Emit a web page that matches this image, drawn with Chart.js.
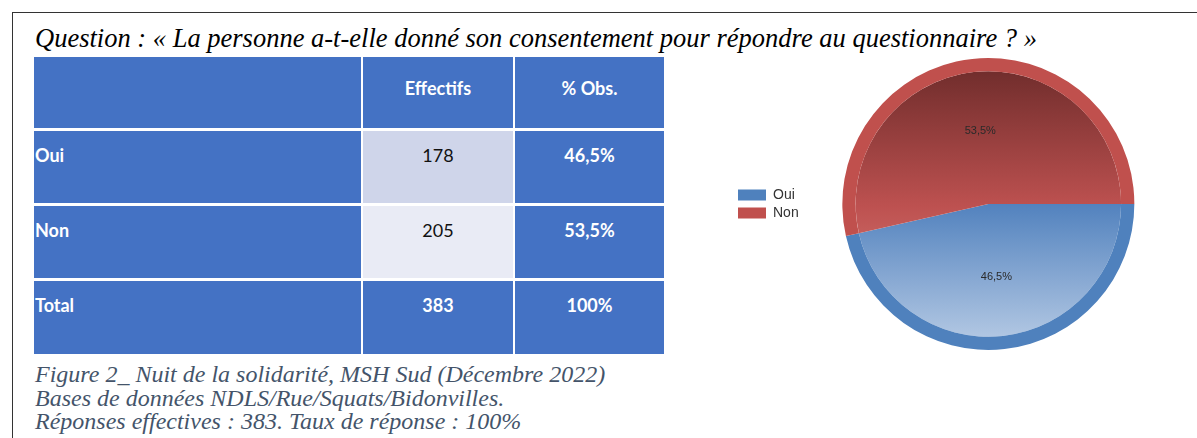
<!DOCTYPE html>
<html lang="fr">
<head>
<meta charset="utf-8">
<script src="https://cdn.jsdelivr.net/npm/chart.js@4.4.0/dist/chart.umd.min.js"></script>
<style>
  html, body { margin: 0; padding: 0; background: #fff; }
  body { width: 1197px; height: 438px; position: relative; overflow: hidden; }
  .frame { position: absolute; left: 12px; top: 12px; width: 1200px; height: 440px;
           border-left: 1px solid #333; border-top: 1px solid #333; }
  .question { position: absolute; left: 35px; top: 25px; font-family: "Liberation Serif", serif;
              font-style: italic; font-size: 26.5px; line-height: 26px; color: #000; white-space: nowrap; }
  .tbl { position: absolute; left: 34px; top: 57px; display: grid;
         grid-template-columns: 327px 150px 149px; grid-template-rows: 71px 72px 72px 73px;
         column-gap: 2px; row-gap: 3px; font-family: Lato, sans-serif; font-size: 18px; }
  .cell { background: #4472C4; color: #fff; font-weight: bold; box-sizing: border-box;
          padding-top: 13px; text-align: center; }
  .cell.head { padding-top: 20px; }
  .cell.lab { text-align: left; padding-left: 1px; }
  .cell.num { color: #111; font-weight: normal; }
  .caption { position: absolute; left: 35px; top: 363px; font-family: "Liberation Serif", serif;
             font-style: italic; font-size: 24px; line-height: 23.5px; color: #44546A; white-space: nowrap; }
  .pie { position: absolute; left: 734px; top: 51px; width: 463px; height: 306px; }
</style>
</head>
<body>
<div class="frame"></div>
<div class="question">Question : « La personne a-t-elle donné son consentement pour répondre au questionnaire ? »</div>
<div class="tbl" id="tbl"></div>
<div class="caption">Figure 2_ Nuit de la solidarité, MSH Sud (Décembre 2022)<br>Bases de données NDLS/Rue/Squats/Bidonvilles.<br>Réponses effectives : 383. Taux de réponse : 100%</div>
<div class="pie"><canvas id="pieChart"></canvas></div>

<script>
// Données du tableau et du camembert
const categories = ['Oui', 'Non'];
const effectifs = [178, 205];
const pourcentages = [46.5, 53.5];
const enTetes = ['', 'Effectifs', '% Obs.'];
const totalLabel = 'Total';
const totalEffectif = 383;
const totalPourcent = 100;

// couleurs type Excel
const RING = ['#4F81BD', '#C0504D'];
const NUM_BG = ['#CFD5EA', '#E9EBF5'];

const fmtPct = v => v.toFixed(1).replace('.', ',') + '%';

// --- Tableau ---
function buildTable() {
    const tbl = document.getElementById('tbl');
    let html = '';
    enTetes.forEach(h => { html += `<div class="cell head">${h}</div>`; });
    categories.forEach((c, i) => {
        html += `<div class="cell lab">${c}</div>`;
        html += `<div class="cell num" style="background:${NUM_BG[i]}">${effectifs[i]}</div>`;
        html += `<div class="cell">${fmtPct(pourcentages[i])}</div>`;
    });
    html += `<div class="cell lab">${totalLabel}</div>`;
    html += `<div class="cell">${totalEffectif}</div>`;
    html += `<div class="cell">${totalPourcent}%</div>`;
    tbl.innerHTML = html;
}

// --- Camembert ---
function innerFill(context) {
    const chart = context.chart;
    const area = chart.chartArea;
    if (!area) return RING[context.dataIndex];
    const ctx = chart.ctx;
    const cy = (area.top + area.bottom) / 2;
    const r = Math.min(area.right - area.left, area.bottom - area.top) / 2;
    let g;
    if (context.dataIndex === 0) {
        g = ctx.createLinearGradient(0, cy, 0, cy + r);
        g.addColorStop(0, '#5282BE');
        g.addColorStop(1, '#BACDE6');
    } else {
        g = ctx.createLinearGradient(0, cy - r, 0, cy + r * 0.3);
        g.addColorStop(0, '#6A2A29');
        g.addColorStop(0.78, '#BD5150');
        g.addColorStop(1, '#C86360');
    }
    return g;
}

const sliceLabels = {
    id: 'sliceLabels',
    afterDatasetsDraw(chart) {
        const outer = chart.getDatasetMeta(0).data[0];
        const meta = chart.getDatasetMeta(1);
        const ctx = chart.ctx;
        ctx.save();
        ctx.font = '11px "Liberation Sans", Arial, sans-serif';
        ctx.fillStyle = '#2a2a2a';
        ctx.textAlign = 'center';
        ctx.textBaseline = 'middle';
        meta.data.forEach((arc, i) => {
            const a = (arc.startAngle + arc.endAngle) / 2;
            const rr = outer.outerRadius * 0.5;
            ctx.fillText(fmtPct(pourcentages[i]), arc.x + Math.cos(a) * rr, arc.y + Math.sin(a) * rr);
        });
        ctx.restore();
    }
};

function initPie() {
    const ctx = document.getElementById('pieChart').getContext('2d');
    new Chart(ctx, {
        type: 'pie',
        data: {
            labels: categories,
            datasets: [
                { data: effectifs, backgroundColor: RING, borderWidth: 0, weight: 1 },
                { data: effectifs, backgroundColor: innerFill, borderWidth: 0, weight: 10 }
            ]
        },
        options: {
            responsive: true,
            maintainAspectRatio: false,
            animation: false,
            rotation: 90,
            layout: { padding: { top: 7, bottom: 7, right: 29 } },
            plugins: {
                legend: {
                    position: 'left',
                    labels: {
                        boxWidth: 28, boxHeight: 11, padding: 4,
                        color: '#333',
                        font: { family: '"Liberation Sans", Arial, sans-serif', size: 14 }
                    }
                },
                tooltip: { enabled: false }
            }
        },
        plugins: [sliceLabels]
    });
}

buildTable();
initPie();
</script>
</body>
</html>
